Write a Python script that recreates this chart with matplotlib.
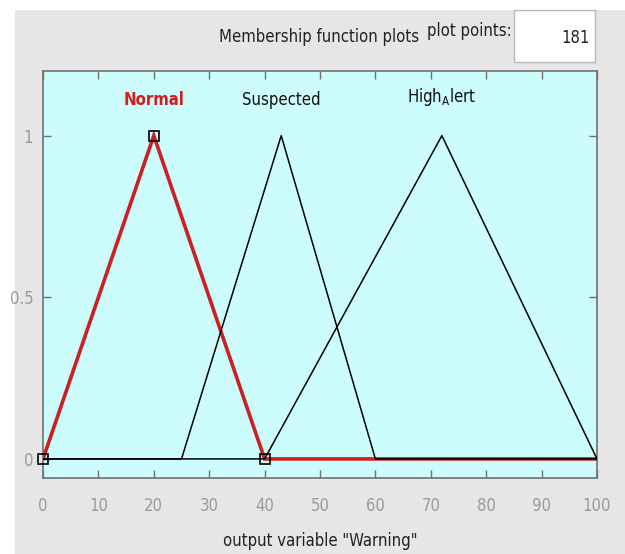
import matplotlib
matplotlib.use("Agg")
import matplotlib.pyplot as plt
from matplotlib.patches import Rectangle

# ---- data ----
mf_names = ["Normal", "Suspected", "High_Alert"]
normal_x = [0, 20, 40, 100]
normal_y = [0, 1, 0, 0]
suspected_x = [0, 25, 43, 60, 100]
suspected_y = [0, 0, 1, 0, 0]
high_x = [0, 40, 72, 100]
high_y = [0, 0, 1, 0]
param_x = [0, 20, 40]
param_y = [0, 1, 0]
label_x = [20, 43, 72]
xticks = [0, 10, 20, 30, 40, 50, 60, 70, 80, 90, 100]
yticks = [0, 0.5, 1]
ytick_labels = ["0", "0.5", "1"]
plot_points = "181"

plt.rcParams["font.family"] = ["DejaVu Sans"]
plt.rcParams["font.stretch"] = "condensed"

W, H = 625, 554
fig = plt.figure(figsize=(W / 100, H / 100), dpi=100)
fig.patch.set_facecolor("white")

# gray panel background
bg = Rectangle((15 / W, 0), 1 - 15 / W, (H - 10) / H,
               transform=fig.transFigure, facecolor="#e6e6e6",
               edgecolor="none", zorder=-5)
fig.add_artist(bg)
# plot points box
box = Rectangle((514 / W, (H - 62) / H), 81 / W, 52 / H,
                transform=fig.transFigure, facecolor="white",
                edgecolor="#b8b8b8", linewidth=1, zorder=-4)
fig.add_artist(box)

fig.text(319 / W, (H - 37) / H, "Membership function plots", ha="center",
         va="center", fontsize=12, color="#222222")
fig.text(469 / W, (H - 31) / H, "plot points:", ha="center", va="center",
         fontsize=12, color="#222222")
fig.text(590 / W, (H - 38) / H, plot_points, ha="right", va="center",
         fontsize=12, color="#222222")

ax = fig.add_axes([43 / W, (H - 478) / H, 554 / W, 407 / H])
ax.set_zorder(5)
ax.set_facecolor("#cdfcfc")
ax.set_xlim(0, 100)
ax.set_ylim(-0.059, 1.2)

ax.plot(normal_x, normal_y, color="#cc2020", linewidth=2.6, zorder=2,
        solid_joinstyle="miter")
ax.plot(suspected_x, suspected_y, color="black", linewidth=1.1, zorder=3)
ax.plot(high_x, high_y, color="black", linewidth=1.1, zorder=3)
ax.plot(param_x, param_y, linestyle="none", marker="s", markersize=7,
        markerfacecolor="none", markeredgecolor="black", markeredgewidth=1.2,
        zorder=4, clip_on=False)

ax.text(label_x[0], 1.11, mf_names[0], ha="center", va="center",
        fontsize=12, color="#cc2020", fontweight="bold")
ax.text(label_x[1], 1.11, mf_names[1], ha="center", va="center",
        fontsize=12, color="#111111")
hi = mf_names[2].split("_")
ax.text(label_x[2], 1.12, hi[0] + r"$_\mathregular{" + hi[1][0] + "}$" + hi[1][1:],
        ha="center", va="center", fontsize=12, color="#111111")

ax.set_xticks(xticks)
ax.set_xticklabels([str(t) for t in xticks])
ax.set_yticks(yticks)
ax.set_yticklabels(ytick_labels)
ax.tick_params(direction="in", length=6, width=1, color="#707070",
               labelcolor="#9a9a9a", labelsize=12, top=True, right=True)
ax.tick_params(axis="x", pad=14)
ax.tick_params(axis="y", pad=7)
for s in ax.spines.values():
    s.set_color("#707070")
    s.set_linewidth(1.2)

ax.set_xlabel('output variable "Warning"', fontsize=12, color="#222222",
              labelpad=12)

fig.savefig("out.png", dpi=100, facecolor=fig.get_facecolor())
